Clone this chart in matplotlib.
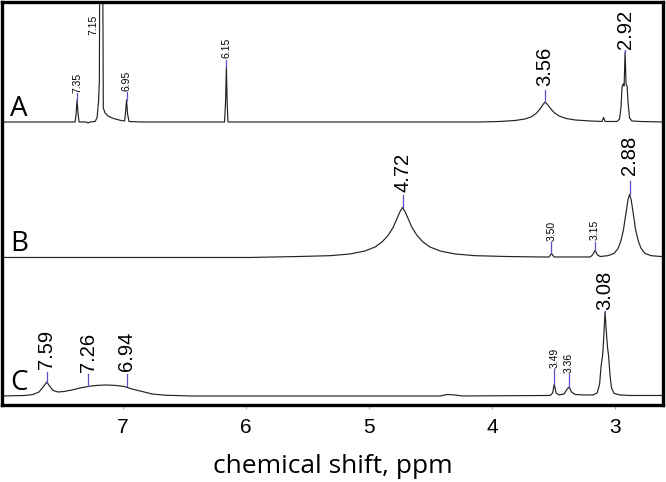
import matplotlib
matplotlib.use("Agg")
import matplotlib.pyplot as plt

# spectrum A: chemical shift (ppm) and intensity above its baseline
ppm_a = [7.98, 7.509, 7.387, 7.379, 7.371, 7.363, 7.355, 7.298, 7.282, 7.266,
         7.225, 7.209, 7.197, 7.190, 7.186, 7.164, 7.158, 7.144, 7.119, 7.087,
         7.046, 7.014, 6.985, 6.977, 6.969, 6.961, 6.949, 6.859, 6.173, 6.165,
         6.158, 6.152, 6.145, 4.097, 3.935, 3.812, 3.732, 3.683, 3.642, 3.610,
         3.585, 3.569, 3.553, 3.528, 3.496, 3.455, 3.398, 3.325, 3.203, 3.106,
         3.094, 3.082, 2.985, 2.964, 2.952, 2.944, 2.935, 2.927, 2.919, 2.911,
         2.903, 2.895, 2.883, 2.863, 2.798, 2.611]
int_a = [0, 0, 0, 8, 22, 8, 0, 0, -1, 0,
         0.5, 4, 20, 40, 200, 200, 14, 9, 6, 4,
         2.5, 1.5, 1, 10, 22, 8, 0.5, 0, 0, 20,
         55, 20, 0, 0, 0.5, 1.5, 3, 5, 8.5, 13,
         17.5, 20, 18, 14, 9.5, 6, 3.5, 2, 1, 0.5,
         4.5, 0.5, 0.5, 3, 15, 35, 38, 36, 70, 38,
         36, 20, 4, 1, 0.5, 0]

# spectrum B
ppm_b = [7.98, 5.966, 5.560, 5.316, 5.154, 5.032, 4.950, 4.894, 4.845, 4.804,
         4.772, 4.747, 4.727, 4.707, 4.682, 4.650, 4.609, 4.561, 4.504, 4.422,
         4.300, 4.138, 3.894, 3.610, 3.537, 3.517, 3.496, 3.203, 3.184, 3.163,
         3.143, 3.122, 3.058, 3.009, 2.976, 2.952, 2.932, 2.911, 2.895, 2.883,
         2.870, 2.854, 2.834, 2.813, 2.789, 2.757, 2.708, 2.611]
int_b = [0, 0, 1, 1.8, 3.5, 6.5, 10.5, 15.5, 22, 30,
         39, 46, 50, 46, 39, 30, 22, 15.5, 10.5, 6.5,
         3.5, 1.8, 1, 0.5, 0.5, 4, 0.5, 0.5, 2.5, 7,
         2.5, 1, 1.8, 4, 9, 17, 28, 45, 58, 63,
         58, 45, 28, 17, 9, 4, 1.8, 0.8]

# spectrum C
ppm_c = [7.98, 7.794, 7.729, 7.680, 7.647, 7.617, 7.595, 7.566, 7.526, 7.477,
         7.412, 7.347, 7.282, 7.217, 7.136, 7.054, 6.989, 6.925, 6.843, 6.762,
         6.656, 6.453, 4.422, 4.365, 4.300, 4.243, 3.528, 3.508, 3.494, 3.480,
         3.455, 3.415, 3.395, 3.374, 3.354, 3.325, 3.244, 3.179, 3.146, 3.126,
         3.114, 3.102, 3.094, 3.082, 3.069, 3.061, 3.053, 3.041, 3.029, 3.008,
         2.960, 2.879, 2.611]
int_c = [0, 0.5, 1.5, 4, 9, 14, 10, 5.5, 4, 4.5,
         6, 8, 9.5, 10.5, 11, 10.5, 9.5, 7, 4.5, 2,
         0.8, 0, 0, 1.5, 1, 0, 0.5, 3, 12, 3,
         1, 2, 6, 9, 4, 1.5, 1, 1, 3, 12,
         30, 40, 55, 84, 60, 48, 40, 20, 8, 2.5,
         1, 0.5, 0.5]

# peak labels: text, ppm, marker start, marker end, text bottom, big/small
labels_a = [("7.35", 7.371, 22, 29, 29, False),
            ("7.15", 7.239, None, None, 87, False),
            ("6.95", 6.968, 22, 30, 31, False),
            ("6.15", 6.161, 55, 62, 64, False),
            ("3.56", 3.569, 20, 32, 36, True),
            ("2.92", 2.919, 70, 72, 73, True)]
labels_b = [("4.72", 4.727, 50, 62, 65, True),
            ("3.50", 3.517, 4, 15, 16, False),
            ("3.15", 3.163, 7, 15, 17, False),
            ("2.88", 2.883, 63, 76, 82, True)]
labels_c = [("7.59", 7.617, 14, 24, 27, True),
            ("7.26", 7.282, 9.5, 22, 24, True),
            ("6.94", 6.968, 9.5, 22, 25, True),
            ("3.49", 3.494, 12, 27, 28, False),
            ("3.36", 3.374, 9, 22, 23, False),
            ("3.08", 3.082, 84, 85, 86, True)]

fig = plt.figure(figsize=(6.66, 4.82), dpi=100)
ax = fig.add_axes([0.003, 0.1598, 0.9925, 0.8361])

traces = [("A", 283, ppm_a, int_a, labels_a),
          ("B", 147.5, ppm_b, int_b, labels_b),
          ("C", 9, ppm_c, int_c, labels_c)]

for name, base, xs, ys, labs in traces:
    ax.plot(xs, [base + v for v in ys], color="#222222", lw=0.85)
    for txt, x, lo, hi, ty, big in labs:
        if lo is not None:
            ax.plot([x, x], [base + lo, base + hi], color="#5a4fcf", lw=0.9)
        ax.text(x, base + ty, txt, rotation=90, ha="center", va="bottom",
                fontsize=14.5 if big else 7.5, family="Liberation Sans")
    ax.text(7.918, base + 6, name, fontsize=20, family="Open Sans",
            ha="left", va="baseline")

ax.set_xlim(7.981, 2.611)
ax.set_ylim(0, 403)
ax.set_yticks([])
ax.set_xticks([7, 6, 5, 4, 3])
ax.set_xticklabels(["7", "6", "5", "4", "3"], family="Liberation Sans",
                   fontsize=15)
ax.tick_params(axis="x", length=3, width=0.6, color="#999999", pad=6.5)
for s in ax.spines.values():
    s.set_linewidth(2.4)
ax.set_xlabel("chemical shift, ppm", fontsize=19, family="Open Sans",
              labelpad=12)

fig.savefig("out.png", dpi=100)
